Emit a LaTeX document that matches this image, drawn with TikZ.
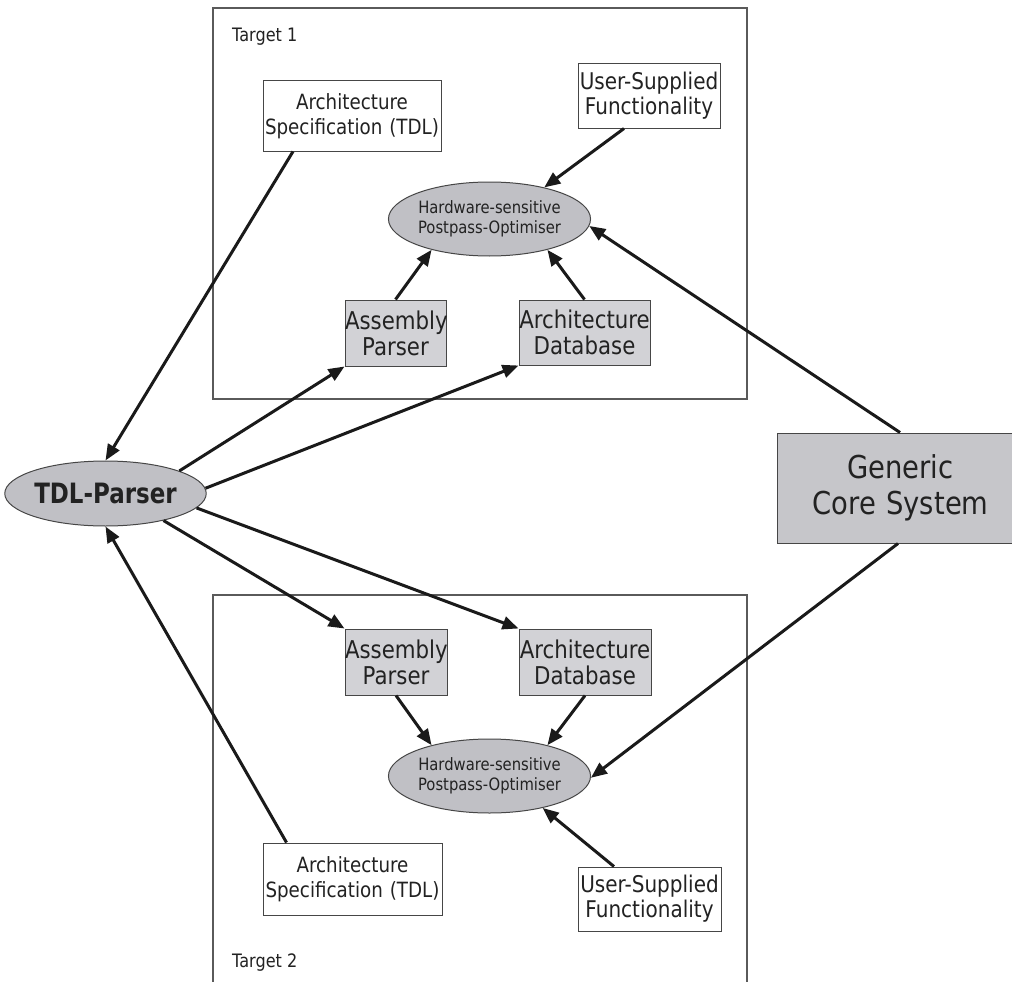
\documentclass[tikz,border=0pt]{standalone}
\usepackage{fontspec}
\setmainfont{DejaVu Sans}[FakeStretch=0.87]
\newfontfamily\tdlfont{DejaVu Sans}[FakeStretch=0.82]
\usetikzlibrary{arrows.meta,shapes.geometric}
\definecolor{ink}{RGB}{26,26,26}
\definecolor{txt}{RGB}{34,34,34}
\definecolor{ellfill}{RGB}{192,192,197}
\definecolor{boxfill}{RGB}{210,210,214}
\definecolor{corefill}{RGB}{198,198,202}
\definecolor{frame}{RGB}{90,90,90}
\definecolor{edge}{RGB}{70,70,70}
\begin{document}
\begin{tikzpicture}[x=1pt,y=-1pt,
  container/.style={draw=frame,line width=1.2pt,rectangle,inner sep=0pt},
  plainbox/.style={draw=edge,line width=1pt,fill=white,inner sep=0pt,align=center,text=txt},
  greybox/.style={plainbox,fill=boxfill},
  optell/.style={ellipse,draw=edge,line width=1pt,fill=ellfill,inner sep=0pt,minimum width=195pt,minimum height=74pt,align=center,text=txt,font=\fontsize{17}{19.5}\selectfont},
  flow/.style={draw=ink,line width=3pt,-{Triangle[length=16pt,width=13pt]}},
  lbl/.style={anchor=west,inner sep=0pt,text=txt,font=\fontsize{18.5}{21}\selectfont}
]
\clip (0,0) rectangle (1012,982);
\fill[white] (0,0) rectangle (1012,982);
% containers
\node[container,minimum width=534pt,minimum height=391pt] (t1) at (480,203.5) {};
\node[container,minimum width=534pt,minimum height=420pt] (t2) at (480,805) {};
\node[lbl] (t1l) at (232,37) {Target 1};
\node[lbl] (t2l) at (232,963) {Target 2};
% target 1
\node[plainbox,text width=178pt,minimum height=70pt,font=\fontsize{21}{25}\selectfont] (as1) at (352,116) {Architecture\\Specification (TDL)};
\node[plainbox,text width=142pt,minimum height=64pt,font=\fontsize{23}{25}\selectfont] (us1) at (649,96) {User-Supplied\\Functionality};
\node[optell] (hw1) at (489.5,219) {Hardware-sensitive\\Postpass-Optimiser};
\node[greybox,text width=101pt,minimum height=66pt,font=\fontsize{24.5}{26}\selectfont] (ap1) at (395.5,333) {Assembly\\Parser};
\node[greybox,text width=131pt,minimum height=65pt,font=\fontsize{24.5}{26}\selectfont] (db1) at (584.5,332.5) {Architecture\\Database};
% parser and core
\node[ellipse,draw=edge,line width=1pt,fill=ellfill,inner sep=0pt,minimum width=191pt,minimum height=65pt,text=txt,font=\tdlfont\bfseries\fontsize{28}{30}\selectfont] (tdl) at (105.5,493.5) {TDL-Parser};
\node[greybox,fill=corefill,text width=247pt,minimum height=110pt,font=\fontsize{31.5}{36}\selectfont] (gcs) at (900.5,488) {Generic\\Core System};
% target 2
\node[greybox,text width=102pt,minimum height=66pt,font=\fontsize{24.5}{26}\selectfont] (ap2) at (396,662) {Assembly\\Parser};
\node[greybox,text width=132pt,minimum height=66pt,font=\fontsize{24.5}{26}\selectfont] (db2) at (585,662) {Architecture\\Database};
\node[optell] (hw2) at (489.5,776) {Hardware-sensitive\\Postpass-Optimiser};
\node[plainbox,text width=179pt,minimum height=72pt,font=\fontsize{21}{25}\selectfont] (as2) at (352.5,879) {Architecture\\Specification (TDL)};
\node[plainbox,text width=143pt,minimum height=64pt,font=\fontsize{23}{25}\selectfont] (us2) at (649.5,899) {User-Supplied\\Functionality};
% connectors
\draw[flow] ([xshift=-59pt]as1.south) -- (tdl.north);
\draw[flow] (tdl.17) -- (ap1.south west);
\draw[flow] (tdl.3) -- (db1.south west);
\draw[flow] (tdl.-9) -- (db2.north west);
\draw[flow] (tdl.-25) -- (ap2.north west);
\draw[flow] ([xshift=-66pt]as2.north) -- (tdl.south);
\draw[flow] (ap1.north) -- (hw1.208);
\draw[flow] (db1.north) -- (hw1.-28);
\draw[flow] ([xshift=-25pt]us1.south) -- (hw1.30);
\draw[flow] ([xshift=-0.5pt]gcs.north) -- (hw1.-4);
\draw[flow] ([xshift=-2.5pt]gcs.south) -- (hw2.-1);
\draw[flow] (ap2.south) -- (hw2.152);
\draw[flow] (db2.south) -- (hw2.28);
\draw[flow] ([xshift=-35.5pt]us2.north) -- (hw2.-31);
\end{tikzpicture}
\end{document}
